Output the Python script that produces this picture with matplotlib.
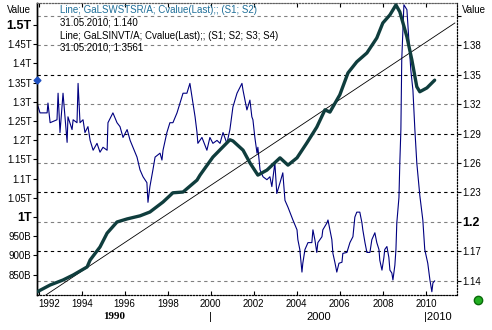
"""
Два ряда на общей оси времени: тонкий (правая шкала) и толстый (левая шкала, T)
"""

import numpy as np
import matplotlib
matplotlib.use("Agg")
import matplotlib.pyplot as plt

plt.rcParams['font.family'] = ['Liberation Sans', 'DejaVu Sans']

# --- данные ---
# тонкий ряд GaLSWSTSR/A (правая шкала)
thin_years = [1991.92, 1992.06, 1992.39, 1992.43, 1992.53, 1992.85, 1992.90, 1992.99, 1993.13, 1993.32,
              1993.36, 1993.55, 1993.60, 1993.78, 1993.83, 1993.92, 1994.06, 1994.15, 1994.29, 1994.39,
              1994.53, 1994.71, 1994.85, 1994.99, 1995.18, 1995.22, 1995.45, 1995.64, 1995.78, 1995.92,
              1996.11, 1996.25, 1996.38, 1996.57, 1996.71, 1996.85, 1997.03, 1997.08, 1997.17, 1997.31,
              1997.41, 1997.64, 1997.73, 1997.78, 1997.96, 1998.10, 1998.24, 1998.43, 1998.57, 1998.71,
              1998.89, 1999.03, 1999.17, 1999.27, 1999.36, 1999.40, 1999.59, 1999.82, 1999.96, 2000.10,
              2000.29, 2000.43, 2000.57, 2000.75, 2000.89, 2001.03, 2001.22, 2001.45, 2001.50, 2001.68,
              2001.82, 2001.91, 2001.96, 2002.05, 2002.15, 2002.19, 2002.29, 2002.43, 2002.61, 2002.75,
              2002.84, 2002.98, 2003.07, 2003.22, 2003.35, 2003.45, 2003.59, 2003.82, 2004.01, 2004.05,
              2004.14, 2004.24, 2004.28, 2004.38, 2004.52, 2004.70, 2004.75, 2004.84, 2004.93, 2004.98,
              2005.17, 2005.21, 2005.40, 2005.45, 2005.54, 2005.63, 2005.68, 2005.77, 2005.86, 2005.96,
              2006.10, 2006.14, 2006.33, 2006.47, 2006.61, 2006.70, 2006.79, 2006.93, 2007.03, 2007.07,
              2007.17, 2007.26, 2007.40, 2007.49, 2007.63, 2007.72, 2007.82, 2007.86, 2007.96, 2008.05,
              2008.09, 2008.19, 2008.28, 2008.33, 2008.42, 2008.47, 2008.56, 2008.61, 2008.65, 2008.75,
              2008.79, 2008.84, 2008.88, 2008.98, 2009.12, 2009.21, 2009.30, 2009.40, 2009.49, 2009.58,
              2009.72, 2009.86, 2009.95, 2010.09, 2010.19, 2010.28, 2010.33, 2010.41]
thin_values = [1.321, 1.311, 1.311, 1.321, 1.301, 1.304, 1.331, 1.291, 1.331, 1.281,
               1.307, 1.294, 1.304, 1.301, 1.341, 1.301, 1.304, 1.291, 1.297, 1.283,
               1.273, 1.280, 1.271, 1.276, 1.273, 1.301, 1.311, 1.301, 1.297, 1.286,
               1.294, 1.283, 1.276, 1.266, 1.253, 1.246, 1.240, 1.220, 1.236, 1.253,
               1.266, 1.270, 1.263, 1.273, 1.291, 1.301, 1.301, 1.311, 1.321, 1.331,
               1.331, 1.341, 1.321, 1.307, 1.291, 1.280, 1.286, 1.273, 1.286, 1.280,
               1.283, 1.280, 1.291, 1.280, 1.294, 1.317, 1.331, 1.341, 1.334, 1.314,
               1.324, 1.307, 1.304, 1.286, 1.270, 1.276, 1.253, 1.246, 1.243, 1.246,
               1.236, 1.260, 1.229, 1.240, 1.250, 1.222, 1.215, 1.202, 1.192, 1.182,
               1.172, 1.149, 1.158, 1.172, 1.179, 1.179, 1.192, 1.182, 1.169, 1.179,
               1.185, 1.192, 1.199, 1.202, 1.192, 1.182, 1.168, 1.159, 1.149, 1.158,
               1.159, 1.168, 1.169, 1.179, 1.185, 1.205, 1.210, 1.210, 1.199, 1.192,
               1.179, 1.169, 1.169, 1.182, 1.189, 1.179, 1.172, 1.161, 1.151, 1.164,
               1.172, 1.175, 1.164, 1.151, 1.148, 1.141, 1.156, 1.172, 1.199, 1.225,
               1.260, 1.294, 1.365, 1.421, 1.416, 1.385, 1.355, 1.334, 1.294, 1.260,
               1.227, 1.202, 1.172, 1.158, 1.141, 1.129, 1.138, 1.140]

# толстый ряд GaLSINVT/A (левая шкала, в триллионах)
thick_years = [1991.92, 1992.53, 1993.13, 1993.60, 1994.25, 1994.39, 1994.85, 1995.18, 1995.64, 1996.11,
               1996.71, 1997.17, 1997.78, 1998.24, 1998.71, 1999.36, 1999.50, 2000.10, 2000.89, 2001.03,
               2001.50, 2001.82, 2002.19, 2002.61, 2003.22, 2003.59, 2004.01, 2004.47, 2004.93, 2005.31,
               2005.54, 2006.00, 2006.38, 2006.79, 2007.26, 2007.72, 2008.00, 2008.33, 2008.61, 2008.79,
               2009.12, 2009.35, 2009.58, 2009.72, 2010.05, 2010.41]
thick_values = [0.805, 0.823, 0.836, 0.849, 0.870, 0.888, 0.922, 0.958, 0.987, 0.995,
                1.003, 1.013, 1.039, 1.063, 1.065, 1.096, 1.109, 1.156, 1.201, 1.198,
                1.174, 1.141, 1.109, 1.122, 1.154, 1.135, 1.154, 1.193, 1.234, 1.279,
                1.273, 1.318, 1.375, 1.404, 1.427, 1.466, 1.505, 1.526, 1.552, 1.534,
                1.469, 1.409, 1.339, 1.326, 1.336, 1.3561]

# линия тренда (левая шкала)
trend_years = [1992.20, 2011.35]
trend_values = [0.792, 1.505]

year_ticks = list(range(1992, 2011, 2))
left_ticks = [0.85, 0.90, 0.95, 1.00, 1.05, 1.10, 1.15, 1.20, 1.25, 1.30, 1.35, 1.40, 1.45, 1.50]
left_labels = ['850B', '900B', '950B', '1T', '1.05T', '1.1T', '1.15T', '1.2T', '1.25T', '1.3T',
               '1.35T', '1.4T', '1.45T', '1.5T']
right_ticks = [1.14, 1.17, 1.20, 1.23, 1.26, 1.29, 1.32, 1.35, 1.38, 1.41]
right_labels = ['1.14', '1.17', '1.2', '1.23', '1.26', '1.29', '1.32', '1.35', '1.38', '']

legend_lines = ['Line; GaLSWSTSR/A; Cvalue(Last);; (S1; S2)',
                '31.05.2010; 1.140',
                'Line; GaLSINVT/A; Cvalue(Last);; (S1; S2; S3; S4)',
                '31.05.2010; 1.3561']

fig = plt.figure(figsize=(4.92, 3.30), dpi=100)
ax = fig.add_axes([0.0752, 0.1061, 0.8537, 0.8848])
ax2 = ax.twinx()
# правая ось (сетка + тонкий ряд) под левой
ax.set_zorder(ax2.get_zorder() + 1)
ax.patch.set_visible(False)

ax.set_xlim(1991.92, 2011.45)
ax.set_ylim(0.797, 1.557)
ax2.set_ylim(1.1257, 1.4228)

# сетка по правой шкале, чередуем чёрные и серые штрихи
for i, v in enumerate(right_ticks):
    if i % 2 == 1 and v < 1.40:
        ax2.axhline(v, color='black', linestyle=(0, (3, 3)), linewidth=0.8, zorder=0)
    else:
        ax2.axhline(v, color='#808080', linestyle=(0, (3, 3)), linewidth=0.8, zorder=0)

ax2.plot(thin_years, thin_values, color='#000080', linewidth=0.8, zorder=2)

ax.plot(trend_years, trend_values, color='black', linewidth=0.6, zorder=2)
ax.plot(thick_years, thick_values, color='#0f3d3d', linewidth=2.4, zorder=3,
        solid_joinstyle='round', solid_capstyle='round')

# оси
ax.set_xticks(year_ticks)
ax.set_xticklabels([str(y) for y in year_ticks], fontsize=7)
ax.get_xticklabels()[0].set_horizontalalignment('left')
ax.tick_params(axis='x', direction='in', length=3, pad=3, top=True)

ax.set_yticks(left_ticks)
ax.set_yticklabels(left_labels, fontsize=7)
ax.tick_params(axis='y', direction='out', length=3, pad=1)
for lab in ax.get_yticklabels():
    if lab.get_text() in ('1T', '1.5T'):
        lab.set_fontweight('bold')
        lab.set_fontsize(9)

ax2.set_yticks(right_ticks)
ax2.set_yticklabels(right_labels, fontsize=7)
ax2.tick_params(axis='y', direction='out', length=3, pad=1)
for lab in ax2.get_yticklabels():
    if lab.get_text() == '1.2':
        lab.set_fontweight('bold')
        lab.set_fontsize(9)

for a in (ax, ax2):
    a.spines['left'].set_linewidth(1.0)
    a.spines['top'].set_linestyle(':')
    a.spines['top'].set_color('#606060')
    a.spines['right'].set_linestyle(':')
    a.spines['bottom'].set_linestyle(':')

# подписи десятилетий
ax.text(1995.5, -0.075, '1990', transform=ax.get_xaxis_transform(), ha='center', va='center',
        fontsize=8, fontweight='bold', family='Liberation Serif')
ax.text(2000.0, -0.075, '|', transform=ax.get_xaxis_transform(), ha='center', va='center', fontsize=8)
ax.text(2005.0, -0.075, '2000', transform=ax.get_xaxis_transform(), ha='center', va='center', fontsize=8)
ax.text(2009.9, -0.075, '|2010', transform=ax.get_xaxis_transform(), ha='left', va='center', fontsize=8)

ax.text(-0.014, 0.976, 'Value', transform=ax.transAxes, ha='right', va='center', fontsize=7)
ax.text(1.012, 0.976, 'Value', transform=ax.transAxes, ha='left', va='center', fontsize=7)

# легенда-подписи
leg_colors = ['#1f6f99', 'black', 'black', 'black']
leg_y = [0.976, 0.932, 0.887, 0.848]
for txt, c, y in zip(legend_lines, leg_colors, leg_y):
    ax.text(0.055, y, txt, transform=ax.transAxes, ha='left', va='center', fontsize=7, color=c)

# маркеры текущих значений
ax.plot([1991.92], [thick_values[-1]], marker='D', markersize=3.5, color='#1f50c0', clip_on=False, zorder=5)
ax.plot([1.05], [-0.017], marker='o', markersize=6, color='#22b022', markeredgecolor='#0a6a0a',
        transform=ax.transAxes, clip_on=False)

plt.savefig('out.png', dpi=100)
